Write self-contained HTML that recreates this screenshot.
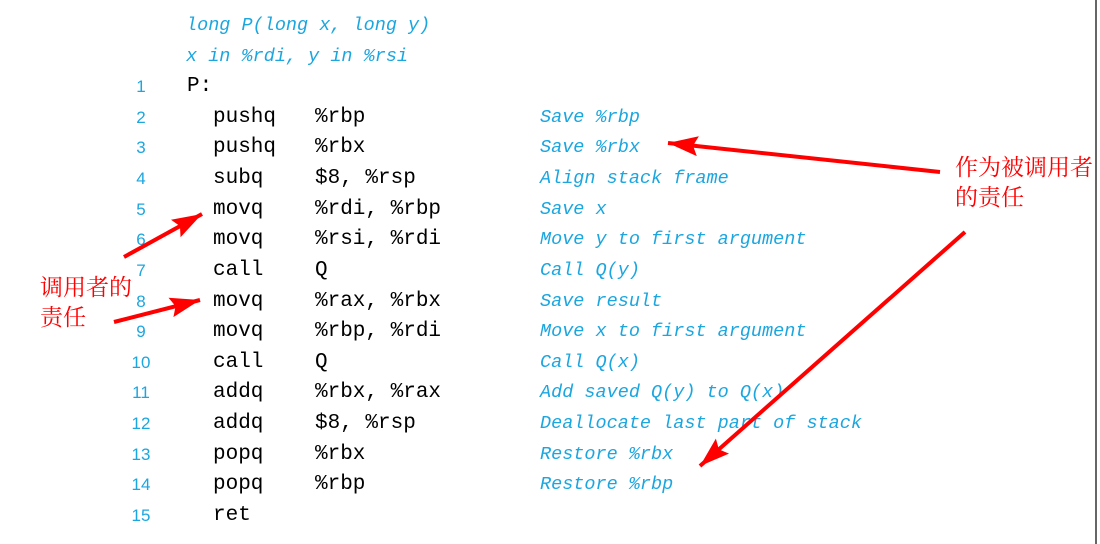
<!DOCTYPE html>
<html><head><meta charset="utf-8"><style>
body{margin:0;width:1100px;height:544px;background:#fff;position:relative;overflow:hidden}
.r{position:absolute;height:30px;line-height:30px;white-space:pre}
.n{font-family:"Liberation Sans",sans-serif;font-size:17px;color:#1ba6e0;width:30px;text-align:center;left:126px}
.c{font-family:"Liberation Mono",monospace;font-size:21px;color:#000}
.m{font-family:"Liberation Mono",monospace;font-size:18.5px;font-style:italic;color:#1ba6e0}
.z{position:absolute;font-family:"Liberation Serif","Noto Serif CJK SC",serif;font-size:23px;color:#f00;line-height:30px}
</style></head><body>
<div class="r m" style="left:186px;top:11px">long P(long x, long y)</div>
<div class="r m" style="left:186px;top:42px">x in %rdi, y in %rsi</div>

<div class="r n" style="top:72px">1</div><div class="r c" style="left:187px;top:72px">P:</div>
<div class="r n" style="top:102.6px">2</div><div class="r c" style="left:213px;top:102.6px">pushq</div><div class="r c" style="left:315px;top:102.6px">%rbp</div><div class="r m" style="left:540px;top:102.6px">Save %rbp</div>
<div class="r n" style="top:133.3px">3</div><div class="r c" style="left:213px;top:133.3px">pushq</div><div class="r c" style="left:315px;top:133.3px">%rbx</div><div class="r m" style="left:540px;top:133.3px">Save %rbx</div>
<div class="r n" style="top:163.9px">4</div><div class="r c" style="left:213px;top:163.9px">subq</div><div class="r c" style="left:315px;top:163.9px">$8, %rsp</div><div class="r m" style="left:540px;top:163.9px">Align stack frame</div>
<div class="r n" style="top:194.6px">5</div><div class="r c" style="left:213px;top:194.6px">movq</div><div class="r c" style="left:315px;top:194.6px">%rdi, %rbp</div><div class="r m" style="left:540px;top:194.6px">Save x</div>
<div class="r n" style="top:225.2px">6</div><div class="r c" style="left:213px;top:225.2px">movq</div><div class="r c" style="left:315px;top:225.2px">%rsi, %rdi</div><div class="r m" style="left:540px;top:225.2px">Move y to first argument</div>
<div class="r n" style="top:255.8px">7</div><div class="r c" style="left:213px;top:255.8px">call</div><div class="r c" style="left:315px;top:255.8px">Q</div><div class="r m" style="left:540px;top:255.8px">Call Q(y)</div>
<div class="r n" style="top:286.5px">8</div><div class="r c" style="left:213px;top:286.5px">movq</div><div class="r c" style="left:315px;top:286.5px">%rax, %rbx</div><div class="r m" style="left:540px;top:286.5px">Save result</div>
<div class="r n" style="top:317.1px">9</div><div class="r c" style="left:213px;top:317.1px">movq</div><div class="r c" style="left:315px;top:317.1px">%rbp, %rdi</div><div class="r m" style="left:540px;top:317.1px">Move x to first argument</div>
<div class="r n" style="top:347.8px">10</div><div class="r c" style="left:213px;top:347.8px">call</div><div class="r c" style="left:315px;top:347.8px">Q</div><div class="r m" style="left:540px;top:347.8px">Call Q(x)</div>
<div class="r n" style="top:378.4px">11</div><div class="r c" style="left:213px;top:378.4px">addq</div><div class="r c" style="left:315px;top:378.4px">%rbx, %rax</div><div class="r m" style="left:540px;top:378.4px">Add saved Q(y) to Q(x)</div>
<div class="r n" style="top:409px">12</div><div class="r c" style="left:213px;top:409px">addq</div><div class="r c" style="left:315px;top:409px">$8, %rsp</div><div class="r m" style="left:540px;top:409px">Deallocate last part of stack</div>
<div class="r n" style="top:439.7px">13</div><div class="r c" style="left:213px;top:439.7px">popq</div><div class="r c" style="left:315px;top:439.7px">%rbx</div><div class="r m" style="left:540px;top:439.7px">Restore %rbx</div>
<div class="r n" style="top:470.3px">14</div><div class="r c" style="left:213px;top:470.3px">popq</div><div class="r c" style="left:315px;top:470.3px">%rbp</div><div class="r m" style="left:540px;top:470.3px">Restore %rbp</div>
<div class="r n" style="top:501px">15</div><div class="r c" style="left:213px;top:501px">ret</div>

<div class="z" style="left:40px;top:273px">调用者的<br>责任</div>
<div class="z" style="left:955px;top:153px">作为被调用者<br>的责任</div>

<div style="position:absolute;left:1095px;top:0;width:2px;height:544px;background:#666"></div>

<svg width="1100" height="544" style="position:absolute;left:0;top:0">
<defs><marker id="a" markerWidth="7.5" markerHeight="5" refX="7.5" refY="2.5" orient="auto" markerUnits="strokeWidth"><path d="M0,0L7.5,2.5L0,5L1.2,2.5z" fill="#f00"/></marker></defs>
<g stroke="#f00" stroke-width="4" stroke-linecap="butt" fill="none">
<line x1="940" y1="172" x2="668" y2="143" marker-end="url(#a)"/>
<line x1="965" y1="232" x2="700" y2="466" marker-end="url(#a)"/>
<line x1="124" y1="257" x2="202" y2="214" marker-end="url(#a)"/>
<line x1="114" y1="322" x2="200" y2="300" marker-end="url(#a)"/>
</g></svg>
</body></html>
